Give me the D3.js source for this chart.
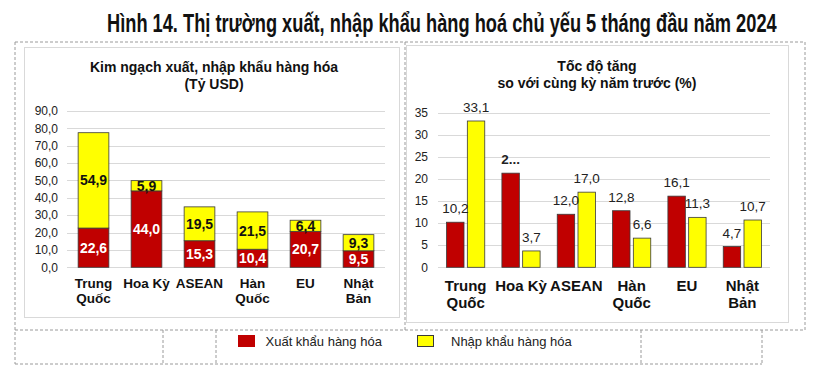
<!DOCTYPE html>
<html>
<head>
<meta charset="utf-8">
<script src="https://cdn.jsdelivr.net/npm/d3@7"></script>
<style>
  body { margin: 0; background: #fff; }
  svg { display: block; font-family: "Liberation Sans", Arial, sans-serif; }
</style>
</head>
<body>
<div id="chart"></div>
<script>
// categories and values
const markets = [["Trung", "Quốc"], ["Hoa Kỳ"], ["ASEAN"], ["Hàn", "Quốc"], ["EU"], ["Nhật", "Bản"]];
const exportValue = [22.6, 44.0, 15.3, 10.4, 20.7, 9.5];
const importValue = [54.9, 5.9, 19.5, 21.5, 6.4, 9.3];
const exportGrowth = [10.2, 21.3, 12.0, 12.8, 16.1, 4.7];
const importGrowth = [33.1, 3.7, 17.0, 6.6, 11.3, 10.7];
const leftTicks = [0, 10, 20, 30, 40, 50, 60, 70, 80, 90];
const rightTicks = [0, 5, 10, 15, 20, 25, 30, 35];
const seriesNames = ["Xuất khẩu hàng hóa", "Nhập khẩu hàng hóa"];
// label that the source chart cut short
const truncatedLabels = { 1: "2..." };

const red = "#C00000", yellow = "#FFFF00";
const fmt1 = v => d3.format(".1f")(v).replace(".", ",");

const width = 820, height = 368;
const svg = d3.select("#chart").append("svg")
  .attr("width", width)
  .attr("height", height);

// dashed table lines around the charts
const dashed = svg.append("g")
  .attr("stroke", "#9a9a9a")
  .attr("stroke-width", 1)
  .attr("stroke-dasharray", "3,2")
  .attr("fill", "none");
const dashLines = [
  [15, 42, 805, 42], [15, 42, 15, 364], [805, 42, 805, 330], [405, 42, 405, 330],
  [15, 330, 805, 330], [15, 364, 762, 364],
  [163, 330, 163, 364], [216, 330, 216, 364], [641, 330, 641, 364], [762, 330, 762, 364]
];
dashed.selectAll("line").data(dashLines).join("line")
  .attr("x1", d => d[0]).attr("y1", d => d[1])
  .attr("x2", d => d[2]).attr("y2", d => d[3]);

// chart panel borders
svg.append("rect").attr("x", 24.5).attr("y", 47.5).attr("width", 375).attr("height", 270)
  .attr("fill", "#fff").attr("stroke", "#d9d9d9");
svg.append("rect").attr("x", 406.5).attr("y", 45.5).attr("width", 382).attr("height", 277)
  .attr("fill", "#fff").attr("stroke", "#d9d9d9");

// main title: squeeze horizontally to get the condensed look
const titleG = svg.append("g");
const title = titleG.append("text")
  .attr("x", 0).attr("y", 0)
  .attr("font-weight", "bold")
  .attr("font-size", 25)
  .attr("fill", "#111")
  .text("Hình 14. Thị trường xuất, nhập khẩu hàng hoá chủ yếu 5 tháng đầu năm 2024");
const titleW = title.node().getComputedTextLength();
titleG.attr("transform", `translate(107,32) scale(${670 / titleW},1)`);

function panelTitle(x, lines, y0) {
  svg.append("text")
    .attr("text-anchor", "middle")
    .attr("font-weight", "bold")
    .attr("font-size", 14)
    .attr("fill", "#111")
    .selectAll("tspan").data(lines).join("tspan")
    .attr("x", x)
    .attr("y", (d, i) => y0 + i * 17)
    .text(d => d);
}

function gridAndAxis(y, ticks, x0, x1, labelX, format) {
  const g = svg.append("g");
  g.selectAll("line").data(ticks).join("line")
    .attr("x1", x0).attr("x2", x1)
    .attr("y1", d => Math.round(y(d)) + 0.5).attr("y2", d => Math.round(y(d)) + 0.5)
    .attr("stroke", "#d9d9d9");
  g.selectAll("text").data(ticks).join("text")
    .attr("x", labelX)
    .attr("y", d => y(d))
    .attr("dy", "0.35em")
    .attr("text-anchor", "end")
    .attr("font-size", 12)
    .attr("fill", "#222")
    .text(format);
}

function categoryLabels(x, y0, size, lineH) {
  svg.append("g").selectAll("text").data(markets).join("text")
    .attr("text-anchor", "middle")
    .attr("font-weight", "bold")
    .attr("font-size", size)
    .attr("fill", "#111")
    .each(function(d, i) {
      d3.select(this).selectAll("tspan").data(d).join("tspan")
        .attr("x", x(i) + x.bandwidth() / 2)
        .attr("y", (t, j) => y0 + j * lineH)
        .text(t => t);
    });
}

// ---- left: stacked values (billion USD)
panelTitle(214, ["Kim ngạch xuất, nhập khẩu hàng hóa", "(Tỷ USD)"], 72);

const xL = d3.scaleBand().domain(d3.range(markets.length)).range([67, 385])
  .paddingInner(0.42).paddingOuter(0.21);
const yL = d3.scaleLinear().domain([0, 90]).range([267.3, 111]);
gridAndAxis(yL, leftTicks, 67, 385, 58, d => fmt1(d));

const stackData = markets.map((m, i) => ({ i, exp: exportValue[i], imp: importValue[i] }));
const stacked = d3.stack().keys(["exp", "imp"])(stackData);
const stackColors = { exp: red, imp: yellow };
const stackText = { exp: "#fff", imp: "#111" };

const layers = svg.append("g").selectAll("g").data(stacked).join("g")
  .attr("fill", d => stackColors[d.key]);
layers.selectAll("rect").data(d => d).join("rect")
  .attr("x", d => xL(d.data.i))
  .attr("y", d => yL(d[1]))
  .attr("width", xL.bandwidth())
  .attr("height", d => yL(d[0]) - yL(d[1]))
  .attr("stroke", "#3a3a3a")
  .attr("stroke-width", 0.8);

svg.append("g").selectAll("g").data(stacked).join("g")
  .attr("fill", d => stackText[d.key])
  .selectAll("text").data(d => d).join("text")
  .attr("x", d => xL(d.data.i) + xL.bandwidth() / 2)
  .attr("y", d => (yL(d[0]) + yL(d[1])) / 2)
  .attr("dy", "0.36em")
  .attr("text-anchor", "middle")
  .attr("font-weight", "bold")
  .attr("font-size", 14)
  .text(d => fmt1(d[1] - d[0]));

categoryLabels(xL, 288, 13.5, 15);

// ---- right: growth rates (%)
panelTitle(597, ["Tốc độ tăng", "so với cùng kỳ năm trước (%)"], 71);

const xR = d3.scaleBand().domain(d3.range(markets.length)).range([438, 770])
  .paddingInner(0.31).paddingOuter(0.155);
const xSub = d3.scaleBand().domain(["exp", "imp"]).range([0, xR.bandwidth()]).paddingInner(0.16);
const yR = d3.scaleLinear().domain([0, 35]).range([267.3, 112.6]);
gridAndAxis(yR, rightTicks, 438, 770, 428, d => d);

const growth = markets.map((m, i) => [
  { i, key: "exp", v: exportGrowth[i], label: truncatedLabels[i] || fmt1(exportGrowth[i]) },
  { i, key: "imp", v: importGrowth[i], label: fmt1(importGrowth[i]) }
]).flat();

const gR = svg.append("g");
gR.selectAll("rect").data(growth).join("rect")
  .attr("x", d => xR(d.i) + xSub(d.key))
  .attr("y", d => yR(d.v))
  .attr("width", xSub.bandwidth())
  .attr("height", d => yR(0) - yR(d.v))
  .attr("fill", d => stackColors[d.key])
  .attr("stroke", "#3a3a3a")
  .attr("stroke-width", 0.8);
gR.selectAll("text").data(growth).join("text")
  .attr("x", d => xR(d.i) + xSub(d.key) + xSub.bandwidth() / 2)
  .attr("y", d => yR(d.v) - 9)
  .attr("text-anchor", "middle")
  .attr("font-size", 13.5)
  .attr("font-weight", d => truncatedLabels[d.i] && d.key === "exp" ? "bold" : "normal")
  .attr("fill", "#222")
  .text(d => d.label);

categoryLabels(xR, 291, 15, 17);

// ---- legend
const legend = svg.append("g").selectAll("g").data(seriesNames).join("g")
  .attr("transform", (d, i) => `translate(${i ? 417.5 : 238.5},335.5)`);
legend.append("rect")
  .attr("width", 16).attr("height", 11)
  .attr("fill", (d, i) => i ? yellow : red)
  .attr("stroke", (d, i) => i ? "#3a3a3a" : red);
legend.append("text")
  .attr("x", (d, i) => i ? 33.5 : 27)
  .attr("y", 6)
  .attr("dy", "0.35em")
  .attr("font-size", 13)
  .attr("fill", "#222")
  .text(d => d);
</script>
</body>
</html>
